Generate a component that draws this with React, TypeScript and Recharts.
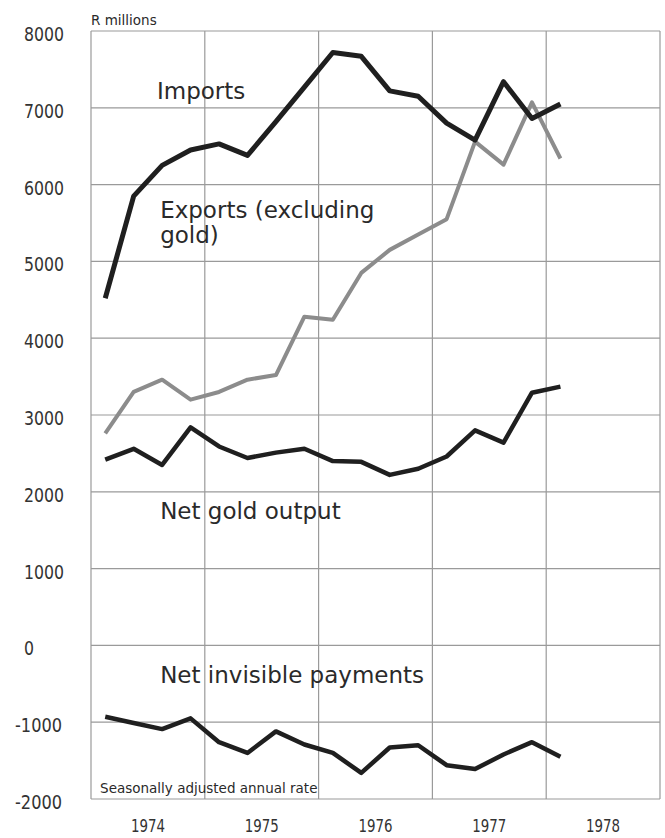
import { LineChart, Line, XAxis, YAxis, CartesianGrid, ReferenceDot } from "recharts";

// quarterly, seasonally adjusted annual rate, R millions
const QUARTERS = [
  "1974 Q1", "1974 Q2", "1974 Q3", "1974 Q4",
  "1975 Q1", "1975 Q2", "1975 Q3", "1975 Q4",
  "1976 Q1", "1976 Q2", "1976 Q3", "1976 Q4",
  "1977 Q1", "1977 Q2", "1977 Q3", "1977 Q4",
  "1978 Q1",
];
const IMPORTS = [4520, 5850, 6250, 6450, 6530, 6380, 6820, 7270, 7720, 7670, 7220, 7150, 6800, 6580, 7340, 6860, 7050];
const EXPORTS = [2760, 3300, 3460, 3200, 3300, 3460, 3520, 4280, 4240, 4850, 5150, 5350, 5550, 6560, 6260, 7070, 6340];
const GOLD = [2420, 2560, 2350, 2840, 2590, 2440, 2510, 2560, 2400, 2390, 2220, 2300, 2460, 2800, 2640, 3290, 3370];
const INVISIBLES = [-930, -1010, -1090, -950, -1260, -1400, -1120, -1290, -1400, -1660, -1330, -1300, -1560, -1610, -1420, -1260, -1450];

const Y_TICKS = [-2000, -1000, 0, 1000, 2000, 3000, 4000, 5000, 6000, 7000, 8000];
const GRID_TICKS = [0, 4, 8, 12, 16, 20];
const YEAR_TICKS = [2, 6, 10, 14, 18];
const YEARS = ["1974", "1975", "1976", "1977", "1978"];

// annotations placed in data units (quarter index, R millions)
const LABELS = [
  { text: "R millions", x: 0, y: 8080, small: true },
  { text: "Imports", x: 2.32, y: 7110, small: false },
  { text: "Exports (excluding", x: 2.43, y: 5565, small: false },
  { text: "gold)", x: 2.43, y: 5240, small: false },
  { text: "Net gold output", x: 2.43, y: 1650, small: false },
  { text: "Net invisible payments", x: 2.43, y: -490, small: false },
  { text: "Seasonally adjusted annual rate", x: 0.32, y: -1920, small: true },
];

const data = QUARTERS.map((q, i) => ({
  q,
  t: i + 0.5,
  imports: IMPORTS[i],
  exports: EXPORTS[i],
  gold: GOLD[i],
  invisibles: INVISIBLES[i],
}));

const NARROW = "'Liberation Sans Narrow', 'DejaVu Sans Condensed', sans-serif";
const SANS = "'DejaVu Sans', 'Open Sans', sans-serif";
const INK = "#2a2a2a";

// condensed figures, squeezed to the width of the printed ones
function YTick({ x, y, payload }: any) {
  const v = payload.value as number;
  const s = String(v);
  const w = s.replace("-", "").length * 10 + (v < 0 ? 7 : 0);
  return (
    <text x={v < 0 ? x - 9 : x} y={y + 3} textAnchor="start" dominantBaseline="central"
      fontFamily={NARROW} fontSize={20} fill="#333" textLength={w} lengthAdjust="spacingAndGlyphs">
      {s}
    </text>
  );
}

function YearTick({ x, y, payload }: any) {
  const i = YEAR_TICKS.indexOf(payload.value);
  return (
    <text x={x} y={y} textAnchor="middle" dominantBaseline="central"
      fontFamily={NARROW} fontSize={18} fill="#333" textLength={34} lengthAdjust="spacingAndGlyphs">
      {YEARS[i]}
    </text>
  );
}

export default function App() {
  return (
    <div style={{ position: "absolute", left: 0, top: 0, background: "#fff" }}>
      <LineChart width={665} height={838} data={data} margin={{ top: 31, right: 5, bottom: 0, left: 0 }}>
        <CartesianGrid xAxisId="grid" stroke="#9a9a9a" strokeWidth={1.2} />
        <XAxis xAxisId="grid" type="number" dataKey="t" domain={[0, 20]} ticks={GRID_TICKS} height={0} hide />
        <XAxis xAxisId="years" type="number" dataKey="t" domain={[0, 20]} ticks={YEAR_TICKS}
          axisLine={false} tickLine={false} tickSize={0} tickMargin={26} height={39} tick={<YearTick />} />
        <YAxis type="number" domain={[-2000, 8000]} ticks={Y_TICKS} width={91}
          axisLine={false} tickLine={false} tickSize={0} tickMargin={67} tick={<YTick />} />

        <Line xAxisId="grid" type="linear" dataKey="exports" stroke="#8c8c8c" strokeWidth={4}
          strokeLinejoin="round" dot={false} isAnimationActive={false} />
        <Line xAxisId="grid" type="linear" dataKey="imports" stroke="#1f1f1f" strokeWidth={5}
          strokeLinejoin="round" dot={false} isAnimationActive={false} />
        <Line xAxisId="grid" type="linear" dataKey="gold" stroke="#1f1f1f" strokeWidth={4.5}
          strokeLinejoin="round" dot={false} isAnimationActive={false} />
        <Line xAxisId="grid" type="linear" dataKey="invisibles" stroke="#1f1f1f" strokeWidth={4.5}
          strokeLinejoin="round" dot={false} isAnimationActive={false} />

        {LABELS.map((l) => (
          <ReferenceDot
            key={l.text}
            xAxisId="grid"
            x={l.x}
            y={l.y}
            r={0}
            ifOverflow="visible"
            shape={(p: any) => (
              <text x={p.cx} y={p.cy} textAnchor="start" fontFamily={SANS}
                fontSize={l.small ? 13.5 : 23} fill={INK}>
                {l.text}
              </text>
            )}
          />
        ))}
      </LineChart>
    </div>
  );
}
